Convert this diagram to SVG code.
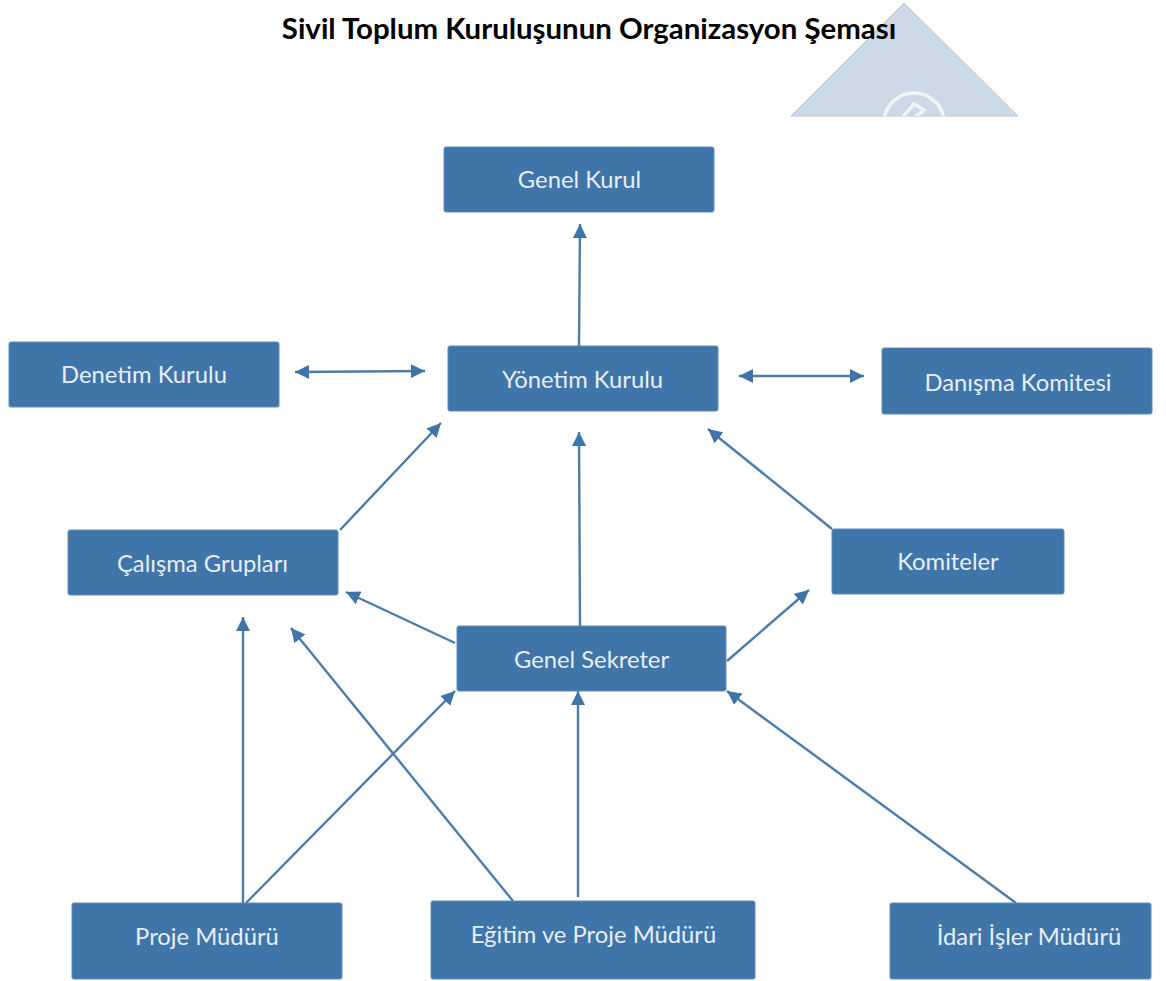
<svg xmlns="http://www.w3.org/2000/svg" width="1166" height="981" viewBox="0 0 1166 981">
<style>
.n{fill:#3f75a8;stroke:#5f8db8;stroke-width:1}
.t{font-family:Lato,"Open Sans",sans-serif;font-size:23.8px;fill:#e6eef5;text-anchor:middle}
.c{stroke:#4a7dac;stroke-width:2.4;fill:none;marker-end:url(#a)}
.d{marker-start:url(#s)}
#title{font-family:Lato,"Liberation Sans",sans-serif;font-weight:700;font-size:29.4px;fill:#000;text-anchor:middle}
</style>
<defs>
<marker id="a" markerUnits="userSpaceOnUse" markerWidth="16" markerHeight="14" refX="14" refY="7" orient="auto"><path d="M0 0L14 7L0 14Z" fill="#3f75a8"/></marker>
<marker id="s" markerUnits="userSpaceOnUse" markerWidth="16" markerHeight="14" refX="0" refY="7" orient="auto"><path d="M14 0L0 7L14 14Z" fill="#3f75a8"/></marker>
<clipPath id="tri"><path d="M904 3L1018 116H791Z"/></clipPath>
</defs>
<rect width="1166" height="981" fill="#fff"/>
<g id="watermark">
<path d="M904 3L1018 116H791Z" fill="#cdd9e6" stroke="#bcc6d0" stroke-width="1"/>
<g clip-path="url(#tri)" fill="none" stroke="#f2f5f8" stroke-width="3.5"><circle cx="914" cy="123" r="30"/><path d="M902 118L914 104L924 110L914 118"/></g>
</g>
<text id="title" x="589" y="39">Sivil Toplum Kuruluşunun Organizasyon Şeması</text>
<g id="connectors">
<path class="c" d="M579 346L580 224"/>
<path class="c d" d="M295 372L425 371"/>
<path class="c d" d="M739 376L864 376"/>
<path class="c" d="M340 530L441 423"/>
<path class="c" d="M580 626L579 432"/>
<path class="c" d="M832 529L708 429"/>
<path class="c" d="M455 643L346 592"/>
<path class="c" d="M727 661L809 590"/>
<path class="c" d="M243 903L243 617"/>
<path class="c" d="M246 903L455 691"/>
<path class="c" d="M513 901L291 628"/>
<path class="c" d="M578 897L578 691"/>
<path class="c" d="M1016 903L727 691"/>
</g>
<g id="genel-kurul"><rect class="n" x="444" y="147" width="270" height="65" rx="2"/><text class="t" x="579.5" y="188">Genel Kurul</text></g>
<g id="denetim-kurulu"><rect class="n" x="9" y="342" width="270" height="65" rx="2"/><text class="t" x="144" y="383">Denetim Kurulu</text></g>
<g id="yonetim-kurulu"><rect class="n" x="448" y="346" width="270" height="65" rx="2"/><text class="t" x="582.5" y="388">Yönetim Kurulu</text></g>
<g id="danisma-komitesi"><rect class="n" x="882" y="348" width="270" height="66" rx="2"/><text class="t" x="1018" y="391">Danışma Komitesi</text></g>
<g id="calisma-gruplari"><rect class="n" x="68" y="530" width="270" height="65" rx="2"/><text class="t" x="202.5" y="572">Çalışma Grupları</text></g>
<g id="komiteler"><rect class="n" x="832" y="529" width="232" height="65" rx="2"/><text class="t" x="948" y="570">Komiteler</text></g>
<g id="genel-sekreter"><rect class="n" x="457" y="626" width="269" height="65" rx="2"/><text class="t" x="591.5" y="668">Genel Sekreter</text></g>
<g id="proje-muduru"><rect class="n" x="72" y="903" width="270" height="76" rx="2"/><text class="t" x="207" y="945">Proje Müdürü</text></g>
<g id="egitim-proje-muduru"><rect class="n" x="431" y="901" width="324" height="78" rx="2"/><text class="t" x="593.5" y="943">Eğitim ve Proje Müdürü</text></g>
<g id="idari-isler-muduru"><rect class="n" x="890" y="903" width="261" height="76" rx="2"/><text class="t" x="1029" y="945">İdari İşler Müdürü</text></g>
</svg>
